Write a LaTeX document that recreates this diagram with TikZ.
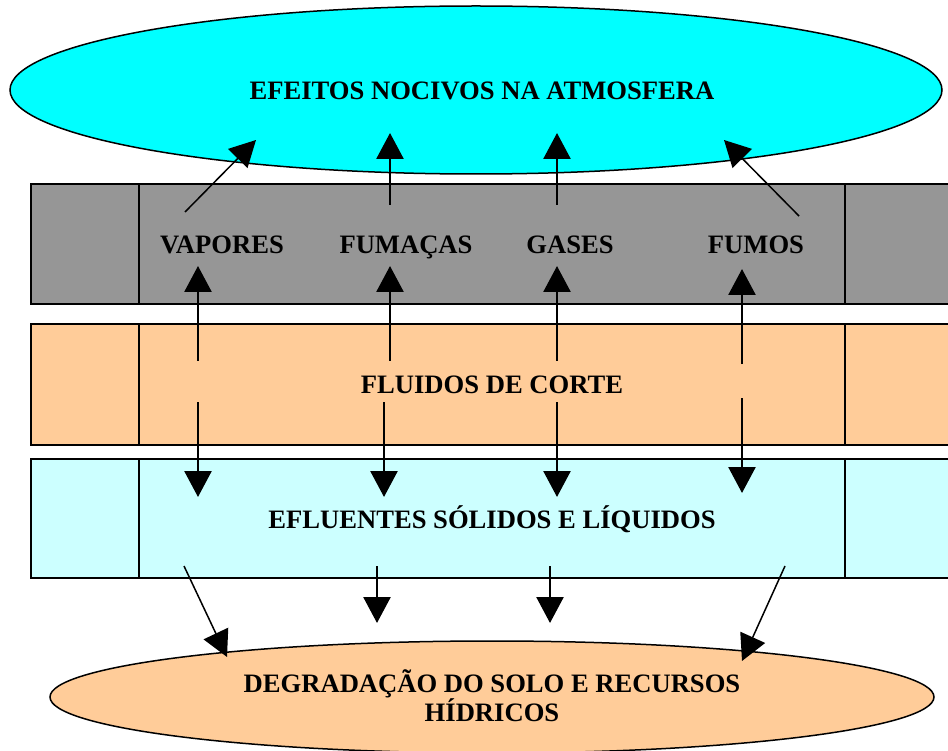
\documentclass[tikz,border=0pt]{standalone}
\usepackage{fontspec}
\setmainfont{Liberation Serif}
\usetikzlibrary{shapes.geometric,arrows.meta}
\definecolor{topcyan}{HTML}{00FFFF}
\definecolor{bandgray}{HTML}{969696}
\definecolor{peach}{HTML}{FFCC99}
\definecolor{lightcyan}{HTML}{CCFFFF}
\tikzset{
  lbl/.style={font=\bfseries\fontsize{26.6}{29}\selectfont, inner sep=0pt, align=center, anchor=base},
  band/.style={draw=black, line width=2pt},
  bigarrow/.style={line width=2.6pt, -{Triangle[length=26pt,width=27pt]}},
  thinarrow/.style={line width=1.5pt, -{Triangle[length=26pt,width=27pt]}},
}
\begin{document}
\begin{tikzpicture}[x=1pt,y=-1pt]
\useasboundingbox (0,0) rectangle (948,751);
% bands
\fill[bandgray] (31,184) rectangle (952,304);
\draw[band] (952,184) -- (31,184) -- (31,304) -- (952,304);
\draw[band] (139,184) -- (139,304);
\draw[band] (845,184) -- (845,304);
\fill[peach] (31,324) rectangle (952,445);
\draw[band] (952,324) -- (31,324) -- (31,445) -- (952,445);
\draw[band] (139,324) -- (139,445);
\draw[band] (845,324) -- (845,445);
\fill[lightcyan] (31,459) rectangle (952,578);
\draw[band] (952,459) -- (31,459) -- (31,578) -- (952,578);
\draw[band] (139,459) -- (139,578);
\draw[band] (845,459) -- (845,578);
% ellipses
\node[ellipse, draw=black, line width=1.5pt, fill=topcyan, minimum width=932pt, minimum height=168pt, inner sep=0pt] (atm) at (476,90) {};
\node[lbl] (atmt) at (482,100) {EFEITOS NOCIVOS NA ATMOSFERA};
\node[ellipse, draw=black, line width=1.5pt, fill=peach, minimum width=884pt, minimum height=112pt, inner sep=0pt] (deg) at (492,697) {};
\node[lbl] (degt) at (492,721) {DEGRADAÇÃO DO SOLO E RECURSOS\\HÍDRICOS};
% labels
\node[lbl] (vap) at (222,254) {VAPORES};
\node[lbl] (fum) at (406,254) {FUMAÇAS};
\node[lbl] (gas) at (570,254) {GASES};
\node[lbl] (fms) at (756,254) {FUMOS};
\node[lbl] (flu) at (492,393) {FLUIDOS DE CORTE};
\node[lbl] (efl) at (492,528) {EFLUENTES SÓLIDOS E LÍQUIDOS};
% coordinates
\coordinate (u1s) at (185,212); \coordinate (u1e) at (256,140);
\coordinate (u2s) at (390,205); \coordinate (u2e) at (390,133);
\coordinate (u3s) at (557,205); \coordinate (u3e) at (557,133);
\coordinate (u4s) at (799,216); \coordinate (u4e) at (724,140);
\coordinate (m1s) at (198,361); \coordinate (m1e) at (198,266);
\coordinate (m2s) at (390,361); \coordinate (m2e) at (390,266);
\coordinate (m3s) at (557,361); \coordinate (m3e) at (557,266);
\coordinate (m4s) at (742,364); \coordinate (m4e) at (742,269);
\coordinate (d1s) at (198,402); \coordinate (d1e) at (198,497);
\coordinate (d2s) at (384,402); \coordinate (d2e) at (384,497);
\coordinate (d3s) at (557,402); \coordinate (d3e) at (557,497);
\coordinate (d4s) at (742,398); \coordinate (d4e) at (742,493);
\coordinate (b1s) at (184,566); \coordinate (b1e) at (227,657);
\coordinate (b2s) at (377,566); \coordinate (b2e) at (377,623);
\coordinate (b3s) at (550,566); \coordinate (b3e) at (550,623);
\coordinate (b4s) at (785,566); \coordinate (b4e) at (742,661);
% arrows
\draw[thinarrow] (u1s) -- (u1e);
\draw[bigarrow] (u2s) -- (u2e);
\draw[bigarrow] (u3s) -- (u3e);
\draw[thinarrow] (u4s) -- (u4e);
\draw[bigarrow] (m1s) -- (m1e);
\draw[bigarrow] (m2s) -- (m2e);
\draw[bigarrow] (m3s) -- (m3e);
\draw[bigarrow] (m4s) -- (m4e);
\draw[bigarrow] (d1s) -- (d1e);
\draw[bigarrow] (d2s) -- (d2e);
\draw[bigarrow] (d3s) -- (d3e);
\draw[bigarrow] (d4s) -- (d4e);
\draw[thinarrow] (b1s) -- (b1e);
\draw[bigarrow] (b2s) -- (b2e);
\draw[bigarrow] (b3s) -- (b3e);
\draw[thinarrow] (b4s) -- (b4e);
\end{tikzpicture}
\end{document}
